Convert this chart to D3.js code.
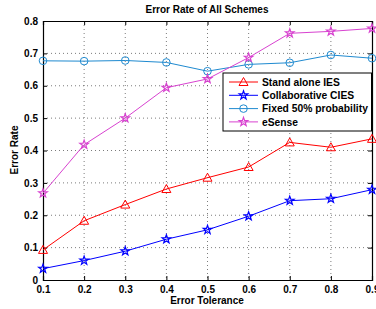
<!DOCTYPE html>
<html><head><meta charset="utf-8">
<script src="https://cdn.jsdelivr.net/npm/d3@7"></script>
<style>body{margin:0;background:#fff}svg text{font-family:"Liberation Sans",Arial,sans-serif;font-weight:bold}</style>
</head><body><svg id="c" width="376" height="309"></svg>
<script>
const xValues = [0.1,0.2,0.3,0.4,0.5,0.6,0.7,0.8,0.9];
const standAloneIES = [0.093,0.183,0.233,0.281,0.316,0.349,0.425,0.410,0.436];
const collaborativeCIES = [0.035,0.060,0.089,0.126,0.155,0.197,0.245,0.251,0.279];
const fixed50 = [0.677,0.676,0.678,0.672,0.645,0.666,0.671,0.695,0.685];
const eSense = [0.268,0.418,0.500,0.594,0.621,0.687,0.762,0.768,0.777];
const xTicks = [0.1,0.2,0.3,0.4,0.5,0.6,0.7,0.8,0.9];
const yTicks = [0,0.1,0.2,0.3,0.4,0.5,0.6,0.7,0.8];
const seriesNames = ["Stand alone IES","Collaborative CIES","Fixed 50% probability","eSense"];
const seriesColors = ["#ff0000","#0000ff","#1f8ad0","#d842d0"];
const seriesMarkers = ["triangle","star","circle","star"];
const seriesData = [standAloneIES, collaborativeCIES, fixed50, eSense];

const svg = d3.select("#c");
const L=43, R=372, T=21, B=280;
const x = d3.scaleLinear().domain([0.1,0.9]).range([L,R]);
const y = d3.scaleLinear().domain([0,0.8]).range([B,T]);

const g = svg.append("g");
g.selectAll(".gx").data(xTicks.slice(1,-1)).enter().append("line")
 .attr("x1",d=>x(d)).attr("x2",d=>x(d)).attr("y1",T).attr("y2",B)
 .attr("stroke","#444").attr("stroke-width",0.7).attr("stroke-dasharray","1,3");
g.selectAll(".gy").data(yTicks.slice(1,-1)).enter().append("line")
 .attr("y1",d=>y(d)).attr("y2",d=>y(d)).attr("x1",L).attr("x2",R)
 .attr("stroke","#444").attr("stroke-width",0.7).attr("stroke-dasharray","1,3");

const xa = svg.append("g").attr("transform",`translate(0,${B})`)
 .call(d3.axisBottom(x).tickValues(xTicks).tickSize(-4).tickPadding(6).tickFormat(d3.format(".1f")));
const xt = svg.append("g").attr("transform",`translate(0,${T})`)
 .call(d3.axisTop(x).tickValues(xTicks).tickSize(-4).tickFormat(""));
const ya = svg.append("g").attr("transform",`translate(${L},0)`)
 .call(d3.axisLeft(y).tickValues(yTicks).tickSize(-4).tickPadding(5).tickFormat(d=>d===0?"0":d3.format(".1f")(d)));
const yr = svg.append("g").attr("transform",`translate(${R},0)`)
 .call(d3.axisRight(y).tickValues(yTicks).tickSize(-4).tickFormat(""));
[xa,xt,ya,yr].forEach(a=>{a.select(".domain").attr("stroke","#000").attr("stroke-width",1.2);
 a.selectAll(".tick line").attr("stroke","#000");
 a.selectAll("text").attr("fill","#000").style("font-size","10px");});

function starPath(cx,cy,r){const pts=[];for(let i=0;i<10;i++){const a=-Math.PI/2+i*Math.PI/5;const rr=i%2?r*0.4:r;pts.push([cx+rr*Math.cos(a),cy+rr*Math.sin(a)]);}return "M"+pts.map(p=>p.join(",")).join("L")+"Z";}
function marker(sel,type,cx,cy,color){
 if(type==="circle") sel.append("circle").attr("cx",cx).attr("cy",cy).attr("r",3.8).attr("fill","none").attr("stroke",color).attr("stroke-width",1);
 else if(type==="triangle") sel.append("path").attr("d",`M${cx},${cy-4.5}L${cx+4.5},${cy+3.5}L${cx-4.5},${cy+3.5}Z`).attr("fill","none").attr("stroke",color).attr("stroke-width",1);
 else sel.append("path").attr("d",starPath(cx,cy,4.5)).attr("fill","none").attr("stroke",color).attr("stroke-width",1.2);
}
const line = d3.line().x((d,i)=>x(xValues[i])).y(d=>y(d));
seriesData.forEach((data,k)=>{
 svg.append("path").datum(data).attr("d",line).attr("fill","none").attr("stroke",seriesColors[k]).attr("stroke-width",1);
 data.forEach((v,i)=>marker(svg,seriesMarkers[k],x(xValues[i]),y(v),seriesColors[k]));
});

const lg = svg.append("g");
lg.append("rect").attr("x",223).attr("y",73).attr("width",148.5).attr("height",58).attr("fill","#fff").attr("stroke","#000").attr("stroke-width",1);
seriesNames.forEach((n,k)=>{
 const yy = 82 + k*13.3;
 lg.append("line").attr("x1",229).attr("x2",258).attr("y1",yy).attr("y2",yy).attr("stroke",seriesColors[k]).attr("stroke-width",1);
 marker(lg,seriesMarkers[k],243.5,yy,seriesColors[k]);
 lg.append("text").attr("x",262).attr("y",yy+3.6).style("font-size","10.3px").attr("fill","#000").text(n);
});

svg.append("text").attr("x",207).attr("y",13).attr("text-anchor","middle").style("font-size","10px").text("Error Rate of All Schemes");
svg.append("text").attr("x",207).attr("y",304).attr("text-anchor","middle").style("font-size","10px").text("Error Tolerance");
svg.append("text").attr("transform","translate(18,150) rotate(-90)").attr("text-anchor","middle").style("font-size","10px").text("Error Rate");
</script></body></html>
